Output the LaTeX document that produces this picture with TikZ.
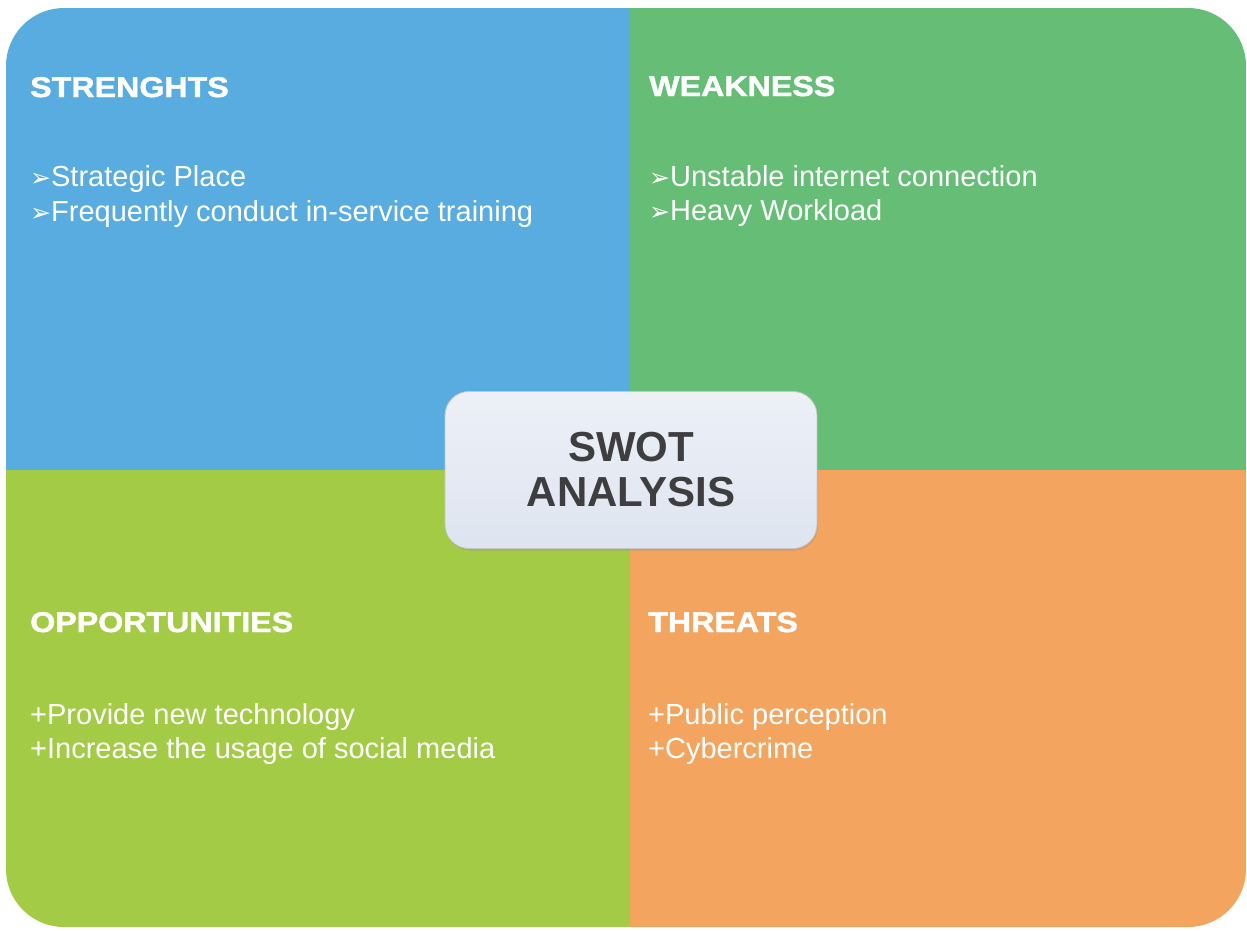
\documentclass[tikz,border=0pt]{standalone}
\usepackage{fontspec}
\setmainfont{Liberation Sans}
\newfontfamily\headfont[FakeStretch=1.13,FakeBold=1.6]{Liberation Sans}
\newfontfamily\symfont{DejaVu Sans}
\usepackage{tikz}
\usetikzlibrary{positioning,shadows}
\definecolor{swotblue}{RGB}{88,172,224}
\definecolor{swotgreen}{RGB}{102,190,118}
\definecolor{swotlime}{RGB}{163,203,70}
\definecolor{swotorange}{RGB}{243,165,95}
\definecolor{swotbox}{RGB}{222,228,240}
\definecolor{swottext}{RGB}{62,62,64}

\begin{document}
\begin{tikzpicture}[x=1pt, y=-1pt]
    % Define styles
    \tikzstyle{heading} = [anchor=base west, inner sep=0pt, text=white,
                           font=\headfont\bfseries\fontsize{28.5}{32}\selectfont]
    \tikzstyle{item} = [anchor=base west, inner sep=0pt, text=white,
                        font=\fontsize{29}{34}\selectfont]
    \tikzstyle{center} = [rectangle, rounded corners=24pt, draw=gray!45, line width=0.8pt,
                          top color=swotbox!55, bottom color=swotbox, minimum width=372pt,
                          minimum height=157pt, align=center, text=swottext,
                          font=\bfseries\fontsize{42}{45}\selectfont]
    \newcommand{\arr}{{\symfont\fontsize{25}{25}\selectfont ➢}}

    \useasboundingbox (0,0) rectangle (1247,930);

    % Quadrants
    \begin{scope}
        \clip[rounded corners=58pt] (6,8) rectangle (1246,927);
        \fill[swotblue] (0,0) rectangle (630,470);
        \fill[swotgreen] (630,0) rectangle (1247,470);
        \fill[swotlime] (0,470) rectangle (630,930);
        \fill[swotorange] (630,470) rectangle (1247,930);
    \end{scope}

    % Nodes
    \node[heading] (strengths) at (30,97) {STRENGHTS};
    \node[item] (s1) at (30,186) {\arr Strategic Place};
    \node[item] (s2) at (30,221) {\arr Frequently conduct in-service training};

    \node[heading] (weakness) at (649,96) {WEAKNESS};
    \node[item] (w1) at (649,186) {\arr Unstable internet connection};
    \node[item] (w2) at (649,220) {\arr Heavy Workload};

    \node[heading] (opportunities) at (30,632) {OPPORTUNITIES};
    \node[item] (o1) at (30,724) {+Provide new technology};
    \node[item] (o2) at (30,758) {+Increase the usage of social media};

    \node[heading] (threats) at (648,632) {THREATS};
    \node[item] (t1) at (648,724) {+Public perception};
    \node[item] (t2) at (648,758) {+Cybercrime};

    \node[center, drop shadow={opacity=0.25, shadow xshift=1pt, shadow yshift=-2pt}] (swot) at (631,470) {SWOT\\ANALYSIS};
\end{tikzpicture}
\end{document}
